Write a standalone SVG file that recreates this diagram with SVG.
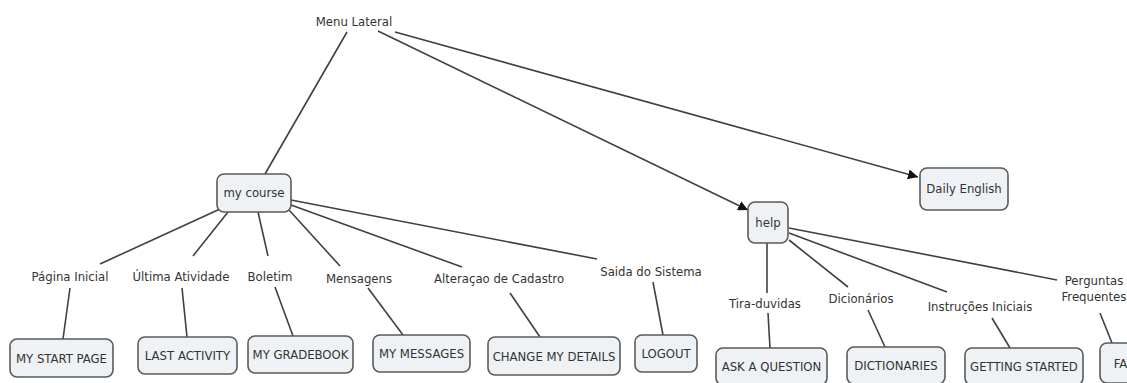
<svg xmlns="http://www.w3.org/2000/svg" width="1127" height="383" viewBox="0 0 1127 383">
<style>
.bg{fill:#ffffff}
.box rect{fill:#eef2f4;stroke:#5a5a5a;stroke-width:1.6}
text{font-family:"DejaVu Sans Condensed","DejaVu Sans",sans-serif;font-size:13px;fill:#333;text-anchor:middle}
.conn line{stroke:#404040;stroke-width:1.6;fill:none}
</style>
<defs>
<marker id="arr" viewBox="0 0 10 10" refX="10" refY="5" markerWidth="10" markerHeight="10" markerUnits="userSpaceOnUse" orient="auto">
<path d="M0,0 L10,5 L0,10 z" fill="#111"/>
</marker>
</defs>
<rect class="bg" x="0" y="0" width="1127" height="383"/>
<g id="connectors" class="conn">
<line x1="347" y1="32" x2="265" y2="174"/>
<line x1="378" y1="31" x2="748" y2="210" marker-end="url(#arr)"/>
<line x1="395" y1="32" x2="918" y2="177" marker-end="url(#arr)"/>
<line x1="220" y1="209" x2="100" y2="264"/>
<line x1="228" y1="212" x2="193" y2="256"/>
<line x1="258" y1="212" x2="268" y2="256"/>
<line x1="289" y1="210" x2="340" y2="266"/>
<line x1="291" y1="205" x2="462" y2="267"/>
<line x1="291" y1="200" x2="597" y2="259"/>
<line x1="70" y1="288" x2="63" y2="339"/>
<line x1="182" y1="288" x2="187" y2="337"/>
<line x1="275" y1="287" x2="293" y2="336"/>
<line x1="368" y1="288" x2="403" y2="335"/>
<line x1="510" y1="293" x2="540" y2="337"/>
<line x1="653" y1="282" x2="663" y2="335"/>
<line x1="767" y1="243" x2="767" y2="293"/>
<line x1="768" y1="313" x2="770" y2="348"/>
<line x1="789" y1="240" x2="848" y2="287"/>
<line x1="868" y1="310" x2="885" y2="347"/>
<line x1="789" y1="233" x2="947" y2="292"/>
<line x1="992" y1="318" x2="1010" y2="348"/>
<line x1="789" y1="228" x2="1057" y2="280"/>
<line x1="1100" y1="313" x2="1112" y2="343"/>
</g>
<g id="menu-lateral"><text x="354" y="26">Menu Lateral</text></g>
<g id="my-course" class="box"><rect x="217" y="174" width="74" height="38" rx="7"/><text x="254" y="197">my course</text></g>
<g id="daily-english" class="box"><rect x="920" y="168" width="88" height="42" rx="7"/><text x="964" y="193">Daily English</text></g>
<g id="help" class="box"><rect x="748" y="202" width="40" height="41" rx="7"/><text x="768" y="227">help</text></g>
<g id="lbl-pagina"><text x="70" y="281">Página Inicial</text></g>
<g id="lbl-ultima"><text x="181" y="281">Última Atividade</text></g>
<g id="lbl-boletim"><text x="270" y="281">Boletim</text></g>
<g id="lbl-mensagens"><text x="359" y="283">Mensagens</text></g>
<g id="lbl-alteracao"><text x="499" y="283">Alteraçao de Cadastro</text></g>
<g id="lbl-saida"><text x="651" y="276">Saida do Sistema</text></g>
<g id="lbl-tira"><text x="765" y="308">Tira-duvidas</text></g>
<g id="lbl-dicionarios"><text x="861" y="303">Dicionários</text></g>
<g id="lbl-instrucoes"><text x="980" y="311">Instruções Iniciais</text></g>
<g id="lbl-perguntas"><text x="1094" y="285">Perguntas</text><text x="1094" y="301">Frequentes</text></g>
<g id="my-start-page" class="box"><rect x="10" y="339" width="103" height="38" rx="7"/><text x="61.5" y="363">MY START PAGE</text></g>
<g id="last-activity" class="box"><rect x="138" y="337" width="99" height="37" rx="7"/><text x="187.5" y="360">LAST ACTIVITY</text></g>
<g id="my-gradebook" class="box"><rect x="248" y="336" width="105" height="37" rx="7"/><text x="300.5" y="359">MY GRADEBOOK</text></g>
<g id="my-messages" class="box"><rect x="373" y="335" width="97" height="37" rx="7"/><text x="421.5" y="358">MY MESSAGES</text></g>
<g id="change-my-details" class="box"><rect x="488" y="337" width="132" height="38" rx="7"/><text x="554" y="361">CHANGE MY DETAILS</text></g>
<g id="logout" class="box"><rect x="635" y="335" width="62" height="37" rx="7"/><text x="666" y="358">LOGOUT</text></g>
<g id="ask-a-question" class="box"><rect x="716" y="348" width="111" height="37" rx="7"/><text x="771.5" y="371">ASK A QUESTION</text></g>
<g id="dictionaries" class="box"><rect x="847" y="347" width="98" height="37" rx="7"/><text x="896" y="370">DICTIONARIES</text></g>
<g id="getting-started" class="box"><rect x="965" y="348" width="118" height="37" rx="7"/><text x="1024" y="371">GETTING STARTED</text></g>
<g id="faq" class="box"><rect x="1100" y="343" width="50" height="40" rx="7"/><text x="1125" y="368">FAQ</text></g>
</svg>
